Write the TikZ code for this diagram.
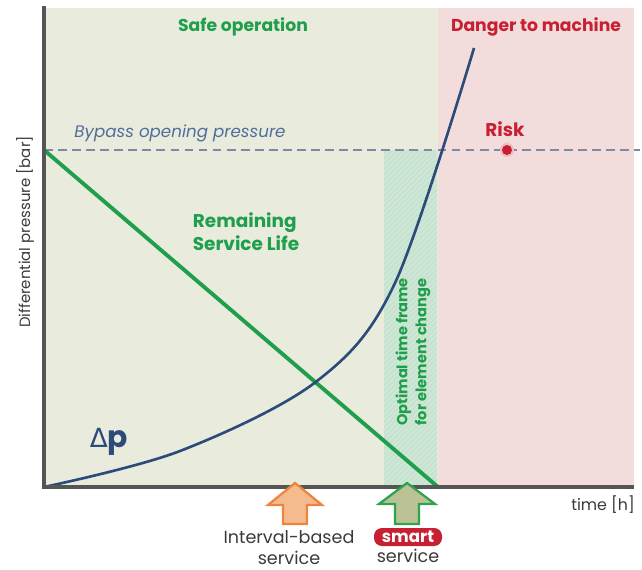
\documentclass[tikz,border=0pt]{standalone}
\usepackage{fontspec}
\setmainfont{Poppins}
\newfontfamily\deltafont{DejaVu Sans}
\usetikzlibrary{patterns,positioning}

\definecolor{safebg}{HTML}{E9ECDD}
\definecolor{dangerbg}{HTML}{F3DCDC}
\definecolor{lifegreen}{HTML}{1F9E4B}
\definecolor{dpblue}{HTML}{2C4A7A}
\definecolor{bypassblue}{HTML}{4F6E9A}
\definecolor{dashgray}{HTML}{7D8AA2}
\definecolor{riskred}{HTML}{C62032}
\definecolor{axisgray}{HTML}{555555}
\definecolor{bandgreen}{HTML}{CFE6D6}
\definecolor{intorange}{HTML}{EE8440}
\definecolor{intfill}{HTML}{F4BC8E}
\definecolor{smartfill}{HTML}{BBC396}
\definecolor{smartgreen}{HTML}{2EA24F}
\definecolor{labelgray}{HTML}{3A3A3A}

\tikzset{
    zonetitle/.style={font=\fontsize{9.8}{11}\selectfont\bfseries},
    axislabel/.style={font=\fontsize{8.5}{10}\selectfont,text=labelgray},
    servicelabel/.style={font=\fontsize{10}{12}\selectfont,text=labelgray,align=center}
}

\begin{document}
\begin{tikzpicture}[x=0.02cm,y=-0.02cm]
    \useasboundingbox (0,0) rectangle (642,569);
    % zones
    \fill[safebg] (44,8) rectangle (438,487);
    \fill[dangerbg] (438,8) rectangle (634,487);
    \fill[bandgreen] (384,150) rectangle (437,487);
    \fill[pattern=north east lines,pattern color=lifegreen!30] (384,150) rectangle (437,487);
    % bypass level
    \draw[dashgray,thick,dash pattern=on 5pt off 3pt] (44,150) -- (640,150);
    \node[font=\fontsize{9.5}{11}\selectfont\itshape,text=bypassblue] (bypass) at (180,133) {Bypass opening pressure};
    % remaining life
    \coordinate (lifestart) at (44,150);
    \coordinate (lifeend) at (438,487);
    \draw[lifegreen,line width=2.2pt] (lifestart) -- (lifeend);
    % pressure curve
    \draw[dpblue,line width=1.5pt] plot[smooth,tension=0.55] coordinates
        {(44,487) (180,451) (317,381) (395,283) (474,48)};
    % axes
    \coordinate (origin) at (44,487);
    \draw[axisgray,line width=2pt] (44,6) -- (origin) -- (634,487);
    % risk
    \fill[riskred!30] (507,150) circle (7);
    \fill[riskred] (507,150) circle (5);
    % texts
    \node[zonetitle,text=lifegreen] (safe) at (243,27) {Safe operation};
    \node[zonetitle,text=riskred] (danger) at (536,27) {Danger to machine};
    \node[zonetitle,text=riskred,font=\fontsize{10.5}{12}\selectfont\bfseries] (risk) at (505,129) {Risk};
    \node[zonetitle,text=lifegreen,align=left,font=\fontsize{10.5}{13}\selectfont\bfseries] (life) at (246,232) {Remaining\\Service Life};
    \node[text=dpblue,font=\fontsize{17}{20}\selectfont\bfseries] (dp) at (109,442) {{\deltafont\mdseries\fontsize{15}{18}\selectfont Δ}p};
    \node[text=lifegreen,rotate=90,align=center,font=\fontsize{8.3}{10.8}\selectfont\bfseries] (window) at (413,352) {Optimal time frame\\for element change};
    \node[axislabel,rotate=90] (ylabel) at (25,232) {Differential pressure [bar]};
    \node[axislabel,font=\fontsize{9}{11}\selectfont] (xlabel) at (603,505) {time [h]};
    % service arrows
    \draw[intorange,fill=intfill,line width=1.3pt,line join=miter] (295,483) -- ++(27,22) -- ++(-15,0) -- ++(0,19)
        -- ++(-24,0) -- ++(0,-19) -- ++(-15,0) -- cycle;
    \draw[smartgreen,fill=smartfill,line width=1.3pt,line join=miter] (407,483) -- ++(28,21) -- ++(-16,0) -- ++(0,20)
        -- ++(-24,0) -- ++(0,-20) -- ++(-16,0) -- cycle;
    \node[servicelabel] (interval) at (289,548) {Interval-based\\service};
    \node[fill=riskred,text=white,rounded corners=4.5pt,inner sep=0pt,minimum width=68*0.02cm,minimum height=18*0.02cm,
        font=\fontsize{9.5}{10}\selectfont\bfseries] (smart) at (408,537) {smart};
    \node[servicelabel,below=-2pt of smart] (smartsvc) {service};
\end{tikzpicture}
\end{document}
